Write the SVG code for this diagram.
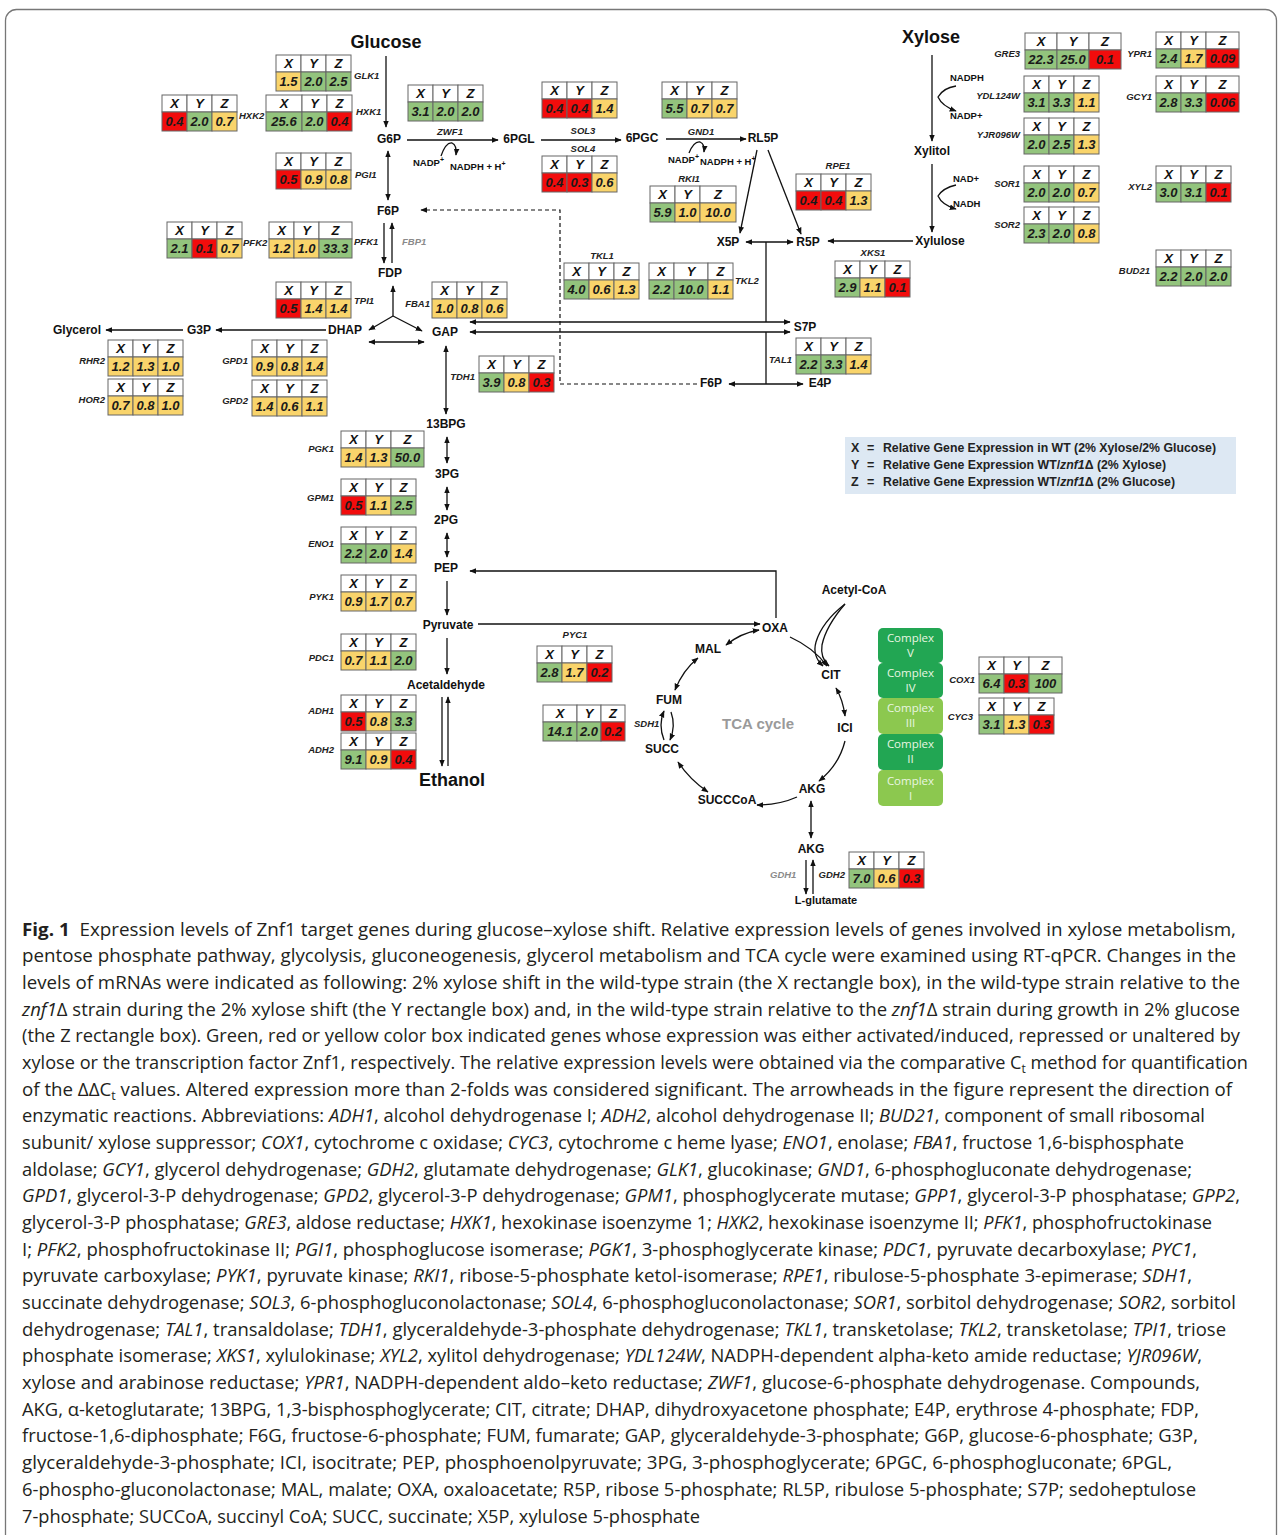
<svg xmlns="http://www.w3.org/2000/svg" xmlns:xlink="http://www.w3.org/1999/xlink" width="1282" height="1535" viewBox="0 0 1282 1535">
<style>
.h{fill:#fff;stroke:#666;stroke-width:1}
.G{fill:#93c47d;stroke:#666;stroke-width:1}
.R{fill:#f20c0c;stroke:#666;stroke-width:1}
.Y{fill:#f9d46b;stroke:#666;stroke-width:1}
.hx{font:italic bold 13px 'Liberation Sans',Arial,sans-serif;text-anchor:middle;fill:#111}
.v{font:italic bold 13px 'Liberation Sans',Arial,sans-serif;text-anchor:middle;fill:#1a1a1a}
.gl{font:italic bold 9.5px 'Liberation Sans',Arial,sans-serif;fill:#222}
.ge{font:italic bold 9.5px 'Liberation Sans',Arial,sans-serif;fill:#222;text-anchor:end}
.gc{font:italic bold 9.5px 'Liberation Sans',Arial,sans-serif;fill:#222;text-anchor:middle}
.gray{fill:#8a8a8a}
.m{font:bold 12px 'Liberation Sans',Arial,sans-serif;fill:#111;text-anchor:middle}
.big{font:bold 18px 'Liberation Sans',Arial,sans-serif;fill:#111;text-anchor:middle}
.co{font:bold 9.5px 'Liberation Sans',Arial,sans-serif;fill:#111}
.ln{stroke:#111;stroke-width:1.3;fill:none}
.da{stroke:#111;stroke-width:1.2;fill:none;stroke-dasharray:4 3}
.cx{font:11.5px 'Open Sans','Liberation Sans',sans-serif;fill:#e9f6e2;text-anchor:middle}
.lg{font:bold 12.5px 'Liberation Sans',Arial,sans-serif;fill:#222}
.cap{font:18px 'Open Sans','Liberation Sans',sans-serif;fill:#231f20}
.i{font-style:italic}
</style>
<defs>
<marker id="a" viewBox="0 0 10 10" refX="9" refY="5" markerWidth="7" markerHeight="7" markerUnits="userSpaceOnUse" orient="auto-start-reverse"><path d="M0,1 L10,5 L0,9 z" fill="#111"/></marker>
<g id="h3"><rect class="h" width="25" height="17"/><rect class="h" x="25" width="25" height="17"/><rect class="h" x="50" width="25" height="17"/><text class="hx" x="12.5" y="13">X</text><text class="hx" x="37.5" y="13">Y</text><text class="hx" x="62.5" y="13">Z</text></g>
<g id="h3b"><rect class="h" width="25" height="17"/><rect class="h" x="25" width="25" height="17"/><rect class="h" x="50" width="33" height="17"/><text class="hx" x="12.5" y="13">X</text><text class="hx" x="37.5" y="13">Y</text><text class="hx" x="66.5" y="13">Z</text></g>
</defs>

<rect x="5.5" y="9.5" width="1271" height="1540" rx="11" fill="none" stroke="#777" stroke-width="1.3"/>

<!-- connectors -->
<g id="connectors">
<path class="ln" d="M386,56 V127" marker-end="url(#a)"/>
<path class="ln" d="M407,140 H498" marker-end="url(#a)"/>
<path class="ln" d="M441,156 Q446,142 452,143 Q457,145 456,155" marker-end="url(#a)"/>
<path class="ln" d="M541,140 H621" marker-end="url(#a)"/>
<path class="ln" d="M666,139 H746" marker-end="url(#a)"/>
<path class="ln" d="M689,153 Q694,141 700,142 Q705,144 704,152" marker-end="url(#a)"/>
<path class="ln" d="M757,150 L740,233" marker-end="url(#a)"/>
<path class="ln" d="M768,150 L801,234" marker-end="url(#a)"/>
<path class="ln" d="M746,242 H793" marker-start="url(#a)" marker-end="url(#a)"/>
<path class="ln" d="M766,242 V322"/>
<path class="ln" d="M470,322 H790" marker-start="url(#a)" marker-end="url(#a)"/>
<path class="ln" d="M470,332 H790" marker-start="url(#a)" marker-end="url(#a)"/>
<path class="ln" d="M766,332 V384"/>
<path class="ln" d="M729,384 H803" marker-start="url(#a)" marker-end="url(#a)"/>
<path class="ln" d="M913,241 H828" marker-end="url(#a)"/>
<path class="da" d="M697,384 H560 V210 H421" marker-end="url(#a)"/>
<path class="ln" d="M932,55 V141" marker-end="url(#a)"/>
<path class="ln" d="M956,86 Q943,88 938,97 Q942,106 956,111" marker-end="url(#a)"/>
<path class="ln" d="M932,164 V232" marker-end="url(#a)"/>
<path class="ln" d="M956,185 Q943,188 938,196 Q942,205 956,209" marker-end="url(#a)"/>
<path class="ln" d="M388,151 V200" marker-start="url(#a)" marker-end="url(#a)"/>
<path class="ln" d="M384,223 V263" marker-end="url(#a)"/>
<path class="ln" d="M392,263 V223" marker-end="url(#a)"/>
<path class="ln" d="M393,316 V286" marker-end="url(#a)"/>
<path class="ln" d="M393,316 L369,330" marker-end="url(#a)"/>
<path class="ln" d="M393,316 L422,331" marker-end="url(#a)"/>
<path class="ln" d="M369,342 H424" marker-start="url(#a)" marker-end="url(#a)"/>
<path class="ln" d="M326,330 H216" marker-end="url(#a)"/>
<path class="ln" d="M183,330 H106" marker-end="url(#a)"/>
<path class="ln" d="M446,346 V414" marker-start="url(#a)" marker-end="url(#a)"/>
<path class="ln" d="M447,437 V463" marker-start="url(#a)" marker-end="url(#a)"/>
<path class="ln" d="M447,487 V510" marker-start="url(#a)" marker-end="url(#a)"/>
<path class="ln" d="M447,533 V557" marker-start="url(#a)" marker-end="url(#a)"/>
<path class="ln" d="M447,581 V615" marker-end="url(#a)"/>
<path class="ln" d="M447,638 V674" marker-end="url(#a)"/>
<path class="ln" d="M442,697 V766" marker-end="url(#a)"/>
<path class="ln" d="M448,766 V697" marker-end="url(#a)"/>
<path class="ln" d="M776,618 V571 H470" marker-end="url(#a)"/>
<path class="ln" d="M478,624 H760" marker-end="url(#a)"/>
<path class="ln" d="M790,637 Q814,648 827,666" marker-end="url(#a)"/>
<path class="ln" d="M836,688 Q843,700 845,716" marker-start="url(#a)" marker-end="url(#a)"/>
<path class="ln" d="M845,741 Q839,765 819,781" marker-end="url(#a)"/>
<path class="ln" d="M797,797 Q779,805 757,805" marker-end="url(#a)"/>
<path class="ln" d="M708,792 Q690,780 678,762" marker-start="url(#a)" marker-end="url(#a)"/>
<path class="ln" d="M664,740 Q658,725 664,711" marker-end="url(#a)"/>
<path class="ln" d="M671,712 Q676,726 670,740" marker-end="url(#a)"/>
<path class="ln" d="M675,690 Q683,670 698,658" marker-start="url(#a)" marker-end="url(#a)"/>
<path class="ln" d="M726,645 Q741,633 759,630" marker-start="url(#a)" marker-end="url(#a)"/>
<path class="ln" d="M845,604 Q822,622 816,642 Q812,656 823,666" marker-end="url(#a)"/>
<path class="ln" d="M845,604 Q826,626 822,645 Q820,658 829,666" marker-end="url(#a)"/>
<path class="ln" d="M811,801 V838" marker-start="url(#a)" marker-end="url(#a)"/>
<path class="ln" d="M806,860 V894" marker-end="url(#a)"/>
<path class="ln" d="M813,894 V860" marker-end="url(#a)"/>
</g>

<!-- metabolites -->
<g id="metabolites">
<text class="big" x="386" y="48">Glucose</text>
<text class="big" x="931" y="43">Xylose</text>
<text class="big" x="452" y="786">Ethanol</text>
<text class="m" x="389" y="143">G6P</text>
<text class="m" x="519" y="143">6PGL</text>
<text class="m" x="642" y="142">6PGC</text>
<text class="m" x="763" y="142">RL5P</text>
<text class="m" x="388" y="215">F6P</text>
<text class="m" x="390" y="277">FDP</text>
<text class="m" x="728" y="246">X5P</text>
<text class="m" x="808" y="246">R5P</text>
<text class="m" x="932" y="155">Xylitol</text>
<text class="m" x="940" y="245">Xylulose</text>
<text class="m" x="77" y="334">Glycerol</text>
<text class="m" x="199" y="334">G3P</text>
<text class="m" x="345" y="334">DHAP</text>
<text class="m" x="445" y="336">GAP</text>
<text class="m" x="805" y="331">S7P</text>
<text class="m" x="711" y="387">F6P</text>
<text class="m" x="820" y="387">E4P</text>
<text class="m" x="446" y="428">13BPG</text>
<text class="m" x="447" y="478">3PG</text>
<text class="m" x="446" y="524">2PG</text>
<text class="m" x="446" y="572">PEP</text>
<text class="m" x="448" y="629">Pyruvate</text>
<text class="m" x="446" y="689">Acetaldehyde</text>
<text class="m" x="775" y="632">OXA</text>
<text class="m" x="854" y="594">Acetyl-CoA</text>
<text class="m" x="708" y="653">MAL</text>
<text class="m" x="831" y="679">CIT</text>
<text class="m" x="669" y="704">FUM</text>
<text class="m" x="845" y="732">ICI</text>
<text class="m" x="662" y="753">SUCC</text>
<text class="m" x="812" y="793">AKG</text>
<text class="m" x="727" y="804">SUCCCoA</text>
<text class="m" x="811" y="853">AKG</text>
<text class="m" x="826" y="904" style="font-size:11px">L-glutamate</text>
<text x="758" y="729" style="font:bold 15px 'Liberation Sans',Arial,sans-serif;fill:#9a9a9a;text-anchor:middle">TCA cycle</text>
<text class="co" x="413" y="166">NADP<tspan dy="-4" font-size="7">+</tspan></text>
<text class="co" x="450" y="170">NADPH + H<tspan dy="-4" font-size="7">+</tspan></text>
<text class="co" x="668" y="163">NADP<tspan dy="-4" font-size="7">+</tspan></text>
<text class="co" x="700" y="165">NADPH + H<tspan dy="-4" font-size="7">+</tspan></text>
<text class="co" x="950" y="81">NADPH</text>
<text class="co" x="950" y="119">NADP+</text>
<text class="co" x="953" y="182">NAD+</text>
<text class="co" x="953" y="207">NADH</text>
<text class="gl gray" x="402" y="245">FBP1</text>
<text class="gl gray" x="770" y="878">GDH1</text>
</g>

<!-- tables -->
<g id="glk1" transform="translate(276,55)"><use href="#h3"/><rect class="Y" y="17" width="25" height="19"/><rect class="G" x="25" y="17" width="25" height="19"/><rect class="G" x="50" y="17" width="25" height="19"/><text class="v" x="12.5" y="31">1.5</text><text class="v" x="37.5" y="31">2.0</text><text class="v" x="62.5" y="31">2.5</text><text class="gl" x="78" y="24">GLK1</text></g>
<g id="hxk2" transform="translate(162,95)"><use href="#h3"/><rect class="R" y="17" width="25" height="19"/><rect class="G" x="25" y="17" width="25" height="19"/><rect class="Y" x="50" y="17" width="25" height="19"/><text class="v" x="12.5" y="31">0.4</text><text class="v" x="37.5" y="31">2.0</text><text class="v" x="62.5" y="31">0.7</text><text class="gl" x="77" y="24">HXK2</text></g>
<g id="hxk1" transform="translate(266,95)"><rect class="h" width="36" height="17"/><rect class="h" x="36" width="25" height="17"/><rect class="h" x="61" width="25" height="17"/><text class="hx" x="18" y="13">X</text><text class="hx" x="48.5" y="13">Y</text><text class="hx" x="73.5" y="13">Z</text><rect class="G" y="17" width="36" height="19"/><rect class="G" x="36" y="17" width="25" height="19"/><rect class="R" x="61" y="17" width="25" height="19"/><text class="v" x="18" y="31">25.6</text><text class="v" x="48.5" y="31">2.0</text><text class="v" x="73.5" y="31">0.4</text><text class="gl" x="90" y="20">HXK1</text></g>
<g id="zwf1" transform="translate(408,85)"><use href="#h3"/><rect class="G" y="17" width="25" height="19"/><rect class="G" x="25" y="17" width="25" height="19"/><rect class="G" x="50" y="17" width="25" height="19"/><text class="v" x="12.5" y="31">3.1</text><text class="v" x="37.5" y="31">2.0</text><text class="v" x="62.5" y="31">2.0</text><text class="gc" x="42" y="50">ZWF1</text></g>
<g id="sol3" transform="translate(542,82)"><use href="#h3"/><rect class="R" y="17" width="25" height="19"/><rect class="R" x="25" y="17" width="25" height="19"/><rect class="Y" x="50" y="17" width="25" height="19"/><text class="v" x="12.5" y="31">0.4</text><text class="v" x="37.5" y="31">0.4</text><text class="v" x="62.5" y="31">1.4</text><text class="gc" x="41" y="52">SOL3</text></g>
<g id="sol4" transform="translate(542,156)"><use href="#h3"/><rect class="R" y="17" width="25" height="19"/><rect class="R" x="25" y="17" width="25" height="19"/><rect class="Y" x="50" y="17" width="25" height="19"/><text class="v" x="12.5" y="31">0.4</text><text class="v" x="37.5" y="31">0.3</text><text class="v" x="62.5" y="31">0.6</text><text class="gc" x="41" y="-4">SOL4</text></g>
<g id="gnd1" transform="translate(662,82)"><use href="#h3"/><rect class="G" y="17" width="25" height="19"/><rect class="Y" x="25" y="17" width="25" height="19"/><rect class="Y" x="50" y="17" width="25" height="19"/><text class="v" x="12.5" y="31">5.5</text><text class="v" x="37.5" y="31">0.7</text><text class="v" x="62.5" y="31">0.7</text><text class="gc" x="39" y="53">GND1</text></g>
<g id="rki1" transform="translate(650,186)"><rect class="h" width="25" height="17"/><rect class="h" x="25" width="25" height="17"/><rect class="h" x="50" width="36" height="17"/><text class="hx" x="12.5" y="13">X</text><text class="hx" x="37.5" y="13">Y</text><text class="hx" x="68" y="13">Z</text><rect class="G" y="17" width="25" height="19"/><rect class="Y" x="25" y="17" width="25" height="19"/><rect class="Y" x="50" y="17" width="36" height="19"/><text class="v" x="12.5" y="31">5.9</text><text class="v" x="37.5" y="31">1.0</text><text class="v" x="68" y="31">10.0</text><text class="gc" x="39" y="-4">RKI1</text></g>
<g id="pgi1" transform="translate(276,153)"><use href="#h3"/><rect class="R" y="17" width="25" height="19"/><rect class="Y" x="25" y="17" width="25" height="19"/><rect class="Y" x="50" y="17" width="25" height="19"/><text class="v" x="12.5" y="31">0.5</text><text class="v" x="37.5" y="31">0.9</text><text class="v" x="62.5" y="31">0.8</text><text class="gl" x="79" y="25">PGI1</text></g>
<g id="pfk2" transform="translate(167,222)"><use href="#h3"/><rect class="G" y="17" width="25" height="19"/><rect class="R" x="25" y="17" width="25" height="19"/><rect class="Y" x="50" y="17" width="25" height="19"/><text class="v" x="12.5" y="31">2.1</text><text class="v" x="37.5" y="31">0.1</text><text class="v" x="62.5" y="31">0.7</text><text class="gl" x="76" y="24">PFK2</text></g>
<g id="pfk1" transform="translate(269,222)"><use href="#h3b"/><rect class="Y" y="17" width="25" height="19"/><rect class="Y" x="25" y="17" width="25" height="19"/><rect class="G" x="50" y="17" width="33" height="19"/><text class="v" x="12.5" y="31">1.2</text><text class="v" x="37.5" y="31">1.0</text><text class="v" x="66.5" y="31">33.3</text><text class="gl" x="85" y="23">PFK1</text></g>
<g id="tpi1" transform="translate(276,282)"><use href="#h3"/><rect class="R" y="17" width="25" height="19"/><rect class="Y" x="25" y="17" width="25" height="19"/><rect class="Y" x="50" y="17" width="25" height="19"/><text class="v" x="12.5" y="31">0.5</text><text class="v" x="37.5" y="31">1.4</text><text class="v" x="62.5" y="31">1.4</text><text class="gl" x="78" y="22">TPI1</text></g>
<g id="fba1" transform="translate(432,282)"><use href="#h3"/><rect class="Y" y="17" width="25" height="19"/><rect class="Y" x="25" y="17" width="25" height="19"/><rect class="Y" x="50" y="17" width="25" height="19"/><text class="v" x="12.5" y="31">1.0</text><text class="v" x="37.5" y="31">0.8</text><text class="v" x="62.5" y="31">0.6</text><text class="ge" x="-2" y="25">FBA1</text></g>
<g id="rhr2" transform="translate(108,340)"><use href="#h3"/><rect class="Y" y="17" width="25" height="19"/><rect class="Y" x="25" y="17" width="25" height="19"/><rect class="Y" x="50" y="17" width="25" height="19"/><text class="v" x="12.5" y="31">1.2</text><text class="v" x="37.5" y="31">1.3</text><text class="v" x="62.5" y="31">1.0</text><text class="ge" x="-3" y="24">RHR2</text></g>
<g id="hor2" transform="translate(108,379)"><use href="#h3"/><rect class="Y" y="17" width="25" height="19"/><rect class="Y" x="25" y="17" width="25" height="19"/><rect class="Y" x="50" y="17" width="25" height="19"/><text class="v" x="12.5" y="31">0.7</text><text class="v" x="37.5" y="31">0.8</text><text class="v" x="62.5" y="31">1.0</text><text class="ge" x="-3" y="24">HOR2</text></g>
<g id="gpd1" transform="translate(252,340)"><use href="#h3"/><rect class="Y" y="17" width="25" height="19"/><rect class="Y" x="25" y="17" width="25" height="19"/><rect class="Y" x="50" y="17" width="25" height="19"/><text class="v" x="12.5" y="31">0.9</text><text class="v" x="37.5" y="31">0.8</text><text class="v" x="62.5" y="31">1.4</text><text class="ge" x="-4" y="24">GPD1</text></g>
<g id="gpd2" transform="translate(252,380)"><use href="#h3"/><rect class="Y" y="17" width="25" height="19"/><rect class="Y" x="25" y="17" width="25" height="19"/><rect class="Y" x="50" y="17" width="25" height="19"/><text class="v" x="12.5" y="31">1.4</text><text class="v" x="37.5" y="31">0.6</text><text class="v" x="62.5" y="31">1.1</text><text class="ge" x="-4" y="24">GPD2</text></g>
<g id="tdh1" transform="translate(479,356)"><use href="#h3"/><rect class="G" y="17" width="25" height="19"/><rect class="Y" x="25" y="17" width="25" height="19"/><rect class="R" x="50" y="17" width="25" height="19"/><text class="v" x="12.5" y="31">3.9</text><text class="v" x="37.5" y="31">0.8</text><text class="v" x="62.5" y="31">0.3</text><text class="ge" x="-4" y="24">TDH1</text></g>
<g id="tkl1" transform="translate(564,263)"><use href="#h3"/><rect class="G" y="17" width="25" height="19"/><rect class="Y" x="25" y="17" width="25" height="19"/><rect class="Y" x="50" y="17" width="25" height="19"/><text class="v" x="12.5" y="31">4.0</text><text class="v" x="37.5" y="31">0.6</text><text class="v" x="62.5" y="31">1.3</text><text class="gc" x="38" y="-4">TKL1</text></g>
<g id="tkl2" transform="translate(649,263)"><rect class="h" width="25" height="17"/><rect class="h" x="25" width="34" height="17"/><rect class="h" x="59" width="25" height="17"/><text class="hx" x="12.5" y="13">X</text><text class="hx" x="42" y="13">Y</text><text class="hx" x="71.5" y="13">Z</text><rect class="G" y="17" width="25" height="19"/><rect class="G" x="25" y="17" width="34" height="19"/><rect class="Y" x="59" y="17" width="25" height="19"/><text class="v" x="12.5" y="31">2.2</text><text class="v" x="42" y="31">10.0</text><text class="v" x="71.5" y="31">1.1</text><text class="gl" x="86" y="21">TKL2</text></g>
<g id="xks1" transform="translate(835,261)"><use href="#h3"/><rect class="G" y="17" width="25" height="19"/><rect class="Y" x="25" y="17" width="25" height="19"/><rect class="R" x="50" y="17" width="25" height="19"/><text class="v" x="12.5" y="31">2.9</text><text class="v" x="37.5" y="31">1.1</text><text class="v" x="62.5" y="31">0.1</text><text class="gc" x="38" y="-5">XKS1</text></g>
<g id="rpe1" transform="translate(796,174)"><use href="#h3"/><rect class="R" y="17" width="25" height="19"/><rect class="R" x="25" y="17" width="25" height="19"/><rect class="Y" x="50" y="17" width="25" height="19"/><text class="v" x="12.5" y="31">0.4</text><text class="v" x="37.5" y="31">0.4</text><text class="v" x="62.5" y="31">1.3</text><text class="gc" x="42" y="-5">RPE1</text></g>
<g id="tal1" transform="translate(796,338)"><use href="#h3"/><rect class="G" y="17" width="25" height="19"/><rect class="G" x="25" y="17" width="25" height="19"/><rect class="Y" x="50" y="17" width="25" height="19"/><text class="v" x="12.5" y="31">2.2</text><text class="v" x="37.5" y="31">3.3</text><text class="v" x="62.5" y="31">1.4</text><text class="ge" x="-4" y="25">TAL1</text></g>
<g id="gre3" transform="translate(1025,33)"><rect class="h" width="32" height="17"/><rect class="h" x="32" width="32" height="17"/><rect class="h" x="64" width="32" height="17"/><text class="hx" x="16" y="13">X</text><text class="hx" x="48" y="13">Y</text><text class="hx" x="80" y="13">Z</text><rect class="G" y="17" width="32" height="19"/><rect class="G" x="32" y="17" width="32" height="19"/><rect class="R" x="64" y="17" width="32" height="19"/><text class="v" x="16" y="31">22.3</text><text class="v" x="48" y="31">25.0</text><text class="v" x="80" y="31">0.1</text><text class="ge" x="-5" y="24">GRE3</text></g>
<g id="ydl124w" transform="translate(1024,76)"><use href="#h3"/><rect class="G" y="17" width="25" height="19"/><rect class="G" x="25" y="17" width="25" height="19"/><rect class="Y" x="50" y="17" width="25" height="19"/><text class="v" x="12.5" y="31">3.1</text><text class="v" x="37.5" y="31">3.3</text><text class="v" x="62.5" y="31">1.1</text><text class="ge" x="-4" y="23">YDL124W</text></g>
<g id="yjr096w" transform="translate(1024,118)"><use href="#h3"/><rect class="G" y="17" width="25" height="19"/><rect class="G" x="25" y="17" width="25" height="19"/><rect class="Y" x="50" y="17" width="25" height="19"/><text class="v" x="12.5" y="31">2.0</text><text class="v" x="37.5" y="31">2.5</text><text class="v" x="62.5" y="31">1.3</text><text class="ge" x="-4" y="20">YJR096W</text></g>
<g id="sor1" transform="translate(1024,166)"><use href="#h3"/><rect class="G" y="17" width="25" height="19"/><rect class="G" x="25" y="17" width="25" height="19"/><rect class="Y" x="50" y="17" width="25" height="19"/><text class="v" x="12.5" y="31">2.0</text><text class="v" x="37.5" y="31">2.0</text><text class="v" x="62.5" y="31">0.7</text><text class="ge" x="-4" y="21">SOR1</text></g>
<g id="sor2" transform="translate(1024,207)"><use href="#h3"/><rect class="G" y="17" width="25" height="19"/><rect class="G" x="25" y="17" width="25" height="19"/><rect class="Y" x="50" y="17" width="25" height="19"/><text class="v" x="12.5" y="31">2.3</text><text class="v" x="37.5" y="31">2.0</text><text class="v" x="62.5" y="31">0.8</text><text class="ge" x="-4" y="21">SOR2</text></g>
<g id="ypr1" transform="translate(1156,32)"><use href="#h3b"/><rect class="G" y="17" width="25" height="19"/><rect class="Y" x="25" y="17" width="25" height="19"/><rect class="R" x="50" y="17" width="33" height="19"/><text class="v" x="12.5" y="31">2.4</text><text class="v" x="37.5" y="31">1.7</text><text class="v" x="66.5" y="31">0.09</text><text class="ge" x="-4" y="25">YPR1</text></g>
<g id="gcy1" transform="translate(1156,76)"><use href="#h3b"/><rect class="G" y="17" width="25" height="19"/><rect class="G" x="25" y="17" width="25" height="19"/><rect class="R" x="50" y="17" width="33" height="19"/><text class="v" x="12.5" y="31">2.8</text><text class="v" x="37.5" y="31">3.3</text><text class="v" x="66.5" y="31">0.06</text><text class="ge" x="-4" y="24">GCY1</text></g>
<g id="xyl2" transform="translate(1156,166)"><use href="#h3"/><rect class="G" y="17" width="25" height="19"/><rect class="G" x="25" y="17" width="25" height="19"/><rect class="R" x="50" y="17" width="25" height="19"/><text class="v" x="12.5" y="31">3.0</text><text class="v" x="37.5" y="31">3.1</text><text class="v" x="62.5" y="31">0.1</text><text class="ge" x="-4" y="24">XYL2</text></g>
<g id="bud21" transform="translate(1156,250)"><use href="#h3"/><rect class="G" y="17" width="25" height="19"/><rect class="G" x="25" y="17" width="25" height="19"/><rect class="G" x="50" y="17" width="25" height="19"/><text class="v" x="12.5" y="31">2.2</text><text class="v" x="37.5" y="31">2.0</text><text class="v" x="62.5" y="31">2.0</text><text class="ge" x="-6" y="24">BUD21</text></g>
<g id="pgk1" transform="translate(341,431)"><use href="#h3b"/><rect class="Y" y="17" width="25" height="19"/><rect class="Y" x="25" y="17" width="25" height="19"/><rect class="G" x="50" y="17" width="33" height="19"/><text class="v" x="12.5" y="31">1.4</text><text class="v" x="37.5" y="31">1.3</text><text class="v" x="66.5" y="31">50.0</text><text class="ge" x="-7" y="21">PGK1</text></g>
<g id="gpm1" transform="translate(341,479)"><use href="#h3"/><rect class="R" y="17" width="25" height="19"/><rect class="Y" x="25" y="17" width="25" height="19"/><rect class="G" x="50" y="17" width="25" height="19"/><text class="v" x="12.5" y="31">0.5</text><text class="v" x="37.5" y="31">1.1</text><text class="v" x="62.5" y="31">2.5</text><text class="ge" x="-7" y="22">GPM1</text></g>
<g id="eno1" transform="translate(341,527)"><use href="#h3"/><rect class="G" y="17" width="25" height="19"/><rect class="G" x="25" y="17" width="25" height="19"/><rect class="Y" x="50" y="17" width="25" height="19"/><text class="v" x="12.5" y="31">2.2</text><text class="v" x="37.5" y="31">2.0</text><text class="v" x="62.5" y="31">1.4</text><text class="ge" x="-7" y="20">ENO1</text></g>
<g id="pyk1" transform="translate(341,575)"><use href="#h3"/><rect class="Y" y="17" width="25" height="19"/><rect class="Y" x="25" y="17" width="25" height="19"/><rect class="Y" x="50" y="17" width="25" height="19"/><text class="v" x="12.5" y="31">0.9</text><text class="v" x="37.5" y="31">1.7</text><text class="v" x="62.5" y="31">0.7</text><text class="ge" x="-7" y="25">PYK1</text></g>
<g id="pdc1" transform="translate(341,634)"><use href="#h3"/><rect class="Y" y="17" width="25" height="19"/><rect class="Y" x="25" y="17" width="25" height="19"/><rect class="G" x="50" y="17" width="25" height="19"/><text class="v" x="12.5" y="31">0.7</text><text class="v" x="37.5" y="31">1.1</text><text class="v" x="62.5" y="31">2.0</text><text class="ge" x="-7" y="27">PDC1</text></g>
<g id="adh1" transform="translate(341,695)"><use href="#h3"/><rect class="R" y="17" width="25" height="19"/><rect class="Y" x="25" y="17" width="25" height="19"/><rect class="G" x="50" y="17" width="25" height="19"/><text class="v" x="12.5" y="31">0.5</text><text class="v" x="37.5" y="31">0.8</text><text class="v" x="62.5" y="31">3.3</text><text class="ge" x="-7" y="19">ADH1</text></g>
<g id="adh2" transform="translate(341,733)"><use href="#h3"/><rect class="G" y="17" width="25" height="19"/><rect class="Y" x="25" y="17" width="25" height="19"/><rect class="R" x="50" y="17" width="25" height="19"/><text class="v" x="12.5" y="31">9.1</text><text class="v" x="37.5" y="31">0.9</text><text class="v" x="62.5" y="31">0.4</text><text class="ge" x="-7" y="20">ADH2</text></g>
<g id="pyc1" transform="translate(537,646)"><use href="#h3"/><rect class="G" y="17" width="25" height="19"/><rect class="Y" x="25" y="17" width="25" height="19"/><rect class="R" x="50" y="17" width="25" height="19"/><text class="v" x="12.5" y="31">2.8</text><text class="v" x="37.5" y="31">1.7</text><text class="v" x="62.5" y="31">0.2</text><text class="gc" x="38" y="-8">PYC1</text></g>
<g id="sdh1" transform="translate(543,705)"><rect class="h" width="34" height="17"/><rect class="h" x="34" width="24" height="17"/><rect class="h" x="58" width="24" height="17"/><text class="hx" x="17" y="13">X</text><text class="hx" x="46" y="13">Y</text><text class="hx" x="70" y="13">Z</text><rect class="G" y="17" width="34" height="19"/><rect class="G" x="34" y="17" width="24" height="19"/><rect class="R" x="58" y="17" width="24" height="19"/><text class="v" x="17" y="31">14.1</text><text class="v" x="46" y="31">2.0</text><text class="v" x="70" y="31">0.2</text><text class="gl" x="91" y="22">SDH1</text></g>
<g id="cox1" transform="translate(979,657)"><use href="#h3b"/><rect class="G" y="17" width="25" height="19"/><rect class="R" x="25" y="17" width="25" height="19"/><rect class="G" x="50" y="17" width="33" height="19"/><text class="v" x="12.5" y="31">6.4</text><text class="v" x="37.5" y="31">0.3</text><text class="v" x="66.5" y="31">100</text><text class="ge" x="-4" y="26">COX1</text></g>
<g id="cyc3" transform="translate(979,698)"><use href="#h3"/><rect class="G" y="17" width="25" height="19"/><rect class="Y" x="25" y="17" width="25" height="19"/><rect class="R" x="50" y="17" width="25" height="19"/><text class="v" x="12.5" y="31">3.1</text><text class="v" x="37.5" y="31">1.3</text><text class="v" x="62.5" y="31">0.3</text><text class="ge" x="-6" y="22">CYC3</text></g>
<g id="gdh2" transform="translate(849,852)"><use href="#h3"/><rect class="G" y="17" width="25" height="19"/><rect class="Y" x="25" y="17" width="25" height="19"/><rect class="R" x="50" y="17" width="25" height="19"/><text class="v" x="12.5" y="31">7.0</text><text class="v" x="37.5" y="31">0.6</text><text class="v" x="62.5" y="31">0.3</text><text class="ge" x="-4" y="26">GDH2</text></g>

<!-- respiratory complexes -->
<g id="complexes">
<rect x="878" y="628" width="65" height="35" rx="5" fill="#22a653"/>
<text class="cx" x="910.5" y="642">Complex</text><text class="cx" x="910.5" y="657">V</text>
<rect x="878" y="663" width="65" height="35" rx="5" fill="#22a653"/>
<text class="cx" x="910.5" y="677">Complex</text><text class="cx" x="910.5" y="692">IV</text>
<rect x="878" y="698" width="65" height="36" rx="5" fill="#8cc84f"/>
<text class="cx" x="910.5" y="712">Complex</text><text class="cx" x="910.5" y="727">III</text>
<rect x="878" y="734" width="65" height="36" rx="5" fill="#22a653"/>
<text class="cx" x="910.5" y="748">Complex</text><text class="cx" x="910.5" y="763">II</text>
<rect x="878" y="770" width="65" height="36" rx="5" fill="#8cc84f"/>
<text class="cx" x="910.5" y="785">Complex</text><text class="cx" x="910.5" y="800">I</text>
</g>

<!-- legend -->
<g id="legend">
<rect x="845" y="437" width="391" height="57" fill="#dde8f3"/>
<text class="lg" x="851" y="452">X</text><text class="lg" x="867" y="452">=</text>
<text class="lg" x="883" y="452" textLength="333" lengthAdjust="spacingAndGlyphs">Relative Gene Expression in WT (2% Xylose/2% Glucose)</text>
<text class="lg" x="851" y="469">Y</text><text class="lg" x="867" y="469">=</text>
<text class="lg" x="883" y="469" textLength="283" lengthAdjust="spacingAndGlyphs">Relative Gene Expression WT/<tspan class="i">znf1</tspan>Δ (2% Xylose)</text>
<text class="lg" x="851" y="486">Z</text><text class="lg" x="867" y="486">=</text>
<text class="lg" x="883" y="486" textLength="292" lengthAdjust="spacingAndGlyphs">Relative Gene Expression WT/<tspan class="i">znf1</tspan>Δ (2% Glucose)</text>
</g>

<!-- caption -->
<g id="caption" class="cap">
<text x="22" y="935.5" textLength="1214" lengthAdjust="spacingAndGlyphs"><tspan font-weight="bold">Fig. 1</tspan>&#160;&#160;Expression levels of Znf1 target genes during glucose–xylose shift. Relative expression levels of genes involved in xylose metabolism,</text>
<text x="22" y="962.2" textLength="1214" lengthAdjust="spacingAndGlyphs">pentose phosphate pathway, glycolysis, gluconeogenesis, glycerol metabolism and TCA cycle were examined using RT-qPCR. Changes in the</text>
<text x="22" y="988.9" textLength="1218" lengthAdjust="spacingAndGlyphs">levels of mRNAs were indicated as following: 2% xylose shift in the wild-type strain (the X rectangle box), in the wild-type strain relative to the</text>
<text x="22" y="1015.5" textLength="1218" lengthAdjust="spacingAndGlyphs"><tspan class="i">znf1</tspan>Δ strain during the 2% xylose shift (the Y rectangle box) and, in the wild-type strain relative to the <tspan class="i">znf1</tspan>Δ strain during growth in 2% glucose</text>
<text x="22" y="1042.2" textLength="1218" lengthAdjust="spacingAndGlyphs">(the Z rectangle box). Green, red or yellow color box indicated genes whose expression was either activated/induced, repressed or unaltered by</text>
<text x="22" y="1068.9" textLength="1226" lengthAdjust="spacingAndGlyphs">xylose or the transcription factor Znf1, respectively. The relative expression levels were obtained via the comparative C<tspan font-size="12" dy="4">t</tspan><tspan dy="-4"> method for quantification</tspan></text>
<text x="22" y="1095.6" textLength="1210" lengthAdjust="spacingAndGlyphs">of the ΔΔC<tspan font-size="12" dy="4">t</tspan><tspan dy="-4"> values. Altered expression more than 2-folds was considered significant. The arrowheads in the figure represent the direction of</tspan></text>
<text x="22" y="1122.3" textLength="1183" lengthAdjust="spacingAndGlyphs">enzymatic reactions. Abbreviations: <tspan class="i">ADH1</tspan>, alcohol dehydrogenase I; <tspan class="i">ADH2</tspan>, alcohol dehydrogenase II; <tspan class="i">BUD21</tspan>, component of small ribosomal</text>
<text x="22" y="1148.9" textLength="1162" lengthAdjust="spacingAndGlyphs">subunit/ xylose suppressor; <tspan class="i">COX1</tspan>, cytochrome c oxidase; <tspan class="i">CYC3</tspan>, cytochrome c heme lyase; <tspan class="i">ENO1</tspan>, enolase; <tspan class="i">FBA1</tspan>, fructose 1,6-bisphosphate</text>
<text x="22" y="1175.6" textLength="1170" lengthAdjust="spacingAndGlyphs">aldolase; <tspan class="i">GCY1</tspan>, glycerol dehydrogenase; <tspan class="i">GDH2</tspan>, glutamate dehydrogenase; <tspan class="i">GLK1</tspan>, glucokinase; <tspan class="i">GND1</tspan>, 6-phosphogluconate dehydrogenase;</text>
<text x="22" y="1202.3" textLength="1218" lengthAdjust="spacingAndGlyphs"><tspan class="i">GPD1</tspan>, glycerol-3-P dehydrogenase; <tspan class="i">GPD2</tspan>, glycerol-3-P dehydrogenase; <tspan class="i">GPM1</tspan>, phosphoglycerate mutase; <tspan class="i">GPP1</tspan>, glycerol-3-P phosphatase; <tspan class="i">GPP2</tspan>,</text>
<text x="22" y="1229" textLength="1190" lengthAdjust="spacingAndGlyphs">glycerol-3-P phosphatase; <tspan class="i">GRE3</tspan>, aldose reductase; <tspan class="i">HXK1</tspan>, hexokinase isoenzyme 1; <tspan class="i">HXK2</tspan>, hexokinase isoenzyme II; <tspan class="i">PFK1</tspan>, phosphofructokinase</text>
<text x="22" y="1255.7" textLength="1175" lengthAdjust="spacingAndGlyphs">I; <tspan class="i">PFK2</tspan>, phosphofructokinase II; <tspan class="i">PGI1</tspan>, phosphoglucose isomerase; <tspan class="i">PGK1</tspan>, 3-phosphoglycerate kinase; <tspan class="i">PDC1</tspan>, pyruvate decarboxylase; <tspan class="i">PYC1</tspan>,</text>
<text x="22" y="1282.3" textLength="1170" lengthAdjust="spacingAndGlyphs">pyruvate carboxylase; <tspan class="i">PYK1</tspan>, pyruvate kinase; <tspan class="i">RKI1</tspan>, ribose-5-phosphate ketol-isomerase; <tspan class="i">RPE1</tspan>, ribulose-5-phosphate 3-epimerase; <tspan class="i">SDH1</tspan>,</text>
<text x="22" y="1309" textLength="1214" lengthAdjust="spacingAndGlyphs">succinate dehydrogenase; <tspan class="i">SOL3</tspan>, 6-phosphogluconolactonase; <tspan class="i">SOL4</tspan>, 6-phosphogluconolactonase; <tspan class="i">SOR1</tspan>, sorbitol dehydrogenase; <tspan class="i">SOR2</tspan>, sorbitol</text>
<text x="22" y="1335.7" textLength="1204" lengthAdjust="spacingAndGlyphs">dehydrogenase; <tspan class="i">TAL1</tspan>, transaldolase; <tspan class="i">TDH1</tspan>, glyceraldehyde-3-phosphate dehydrogenase; <tspan class="i">TKL1</tspan>, transketolase; <tspan class="i">TKL2</tspan>, transketolase; <tspan class="i">TPI1</tspan>, triose</text>
<text x="22" y="1362.4" textLength="1180" lengthAdjust="spacingAndGlyphs">phosphate isomerase; <tspan class="i">XKS1</tspan>, xylulokinase; <tspan class="i">XYL2</tspan>, xylitol dehydrogenase; <tspan class="i">YDL124W</tspan>, NADPH-dependent alpha-keto amide reductase; <tspan class="i">YJR096W</tspan>,</text>
<text x="22" y="1389.1" textLength="1178" lengthAdjust="spacingAndGlyphs">xylose and arabinose reductase; <tspan class="i">YPR1</tspan>, NADPH-dependent aldo–keto reductase; <tspan class="i">ZWF1</tspan>, glucose-6-phosphate dehydrogenase. Compounds,</text>
<text x="22" y="1415.7" textLength="1177" lengthAdjust="spacingAndGlyphs">AKG, α-ketoglutarate; 13BPG, 1,3-bisphosphoglycerate; CIT, citrate; DHAP, dihydroxyacetone phosphate; E4P, erythrose 4-phosphate; FDP,</text>
<text x="22" y="1442.4" textLength="1176" lengthAdjust="spacingAndGlyphs">fructose-1,6-diphosphate; F6G, fructose-6-phosphate; FUM, fumarate; GAP, glyceraldehyde-3-phosphate; G6P, glucose-6-phosphate; G3P,</text>
<text x="22" y="1469.1" textLength="1150" lengthAdjust="spacingAndGlyphs">glyceraldehyde-3-phosphate; ICI, isocitrate; PEP, phosphoenolpyruvate; 3PG, 3-phosphoglycerate; 6PGC, 6-phosphogluconate; 6PGL,</text>
<text x="22" y="1495.8" textLength="1174" lengthAdjust="spacingAndGlyphs">6-phospho-gluconolactonase; MAL, malate; OXA, oxaloacetate; R5P, ribose 5-phosphate; RL5P, ribulose 5-phosphate; S7P; sedoheptulose</text>
<text x="22" y="1522.5" textLength="678" lengthAdjust="spacingAndGlyphs">7-phosphate; SUCCoA, succinyl CoA; SUCC, succinate; X5P, xylulose 5-phosphate</text>
</g>
</svg>
